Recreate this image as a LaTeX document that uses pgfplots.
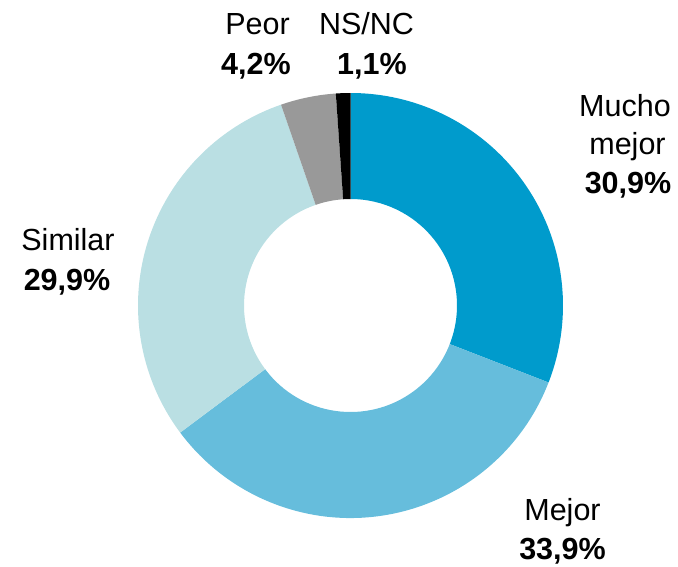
\documentclass[border=0pt]{standalone}
\usepackage{pgfplots}
\usepackage{pgfplotstable}
\pgfplotsset{compat=1.18}
\usepackage{fontspec}
\setmainfont{Liberation Sans}
\definecolor{c0}{HTML}{009BCC}
\definecolor{c1}{HTML}{66BDDC}
\definecolor{c2}{HTML}{BADFE3}
\definecolor{c3}{HTML}{999999}
\definecolor{c4}{HTML}{000000}
\tikzset{
  lbl/.style={anchor=base, inner sep=0pt, font=\fontsize{30.5}{36}\selectfont},
  blbl/.style={anchor=base, inner sep=0pt, font=\fontsize{30.5}{36}\selectfont\bfseries},
}
\pgfplotstableread{
idx value
0 30.9
1 33.9
2 29.9
3 4.2
4 1.1
}\slices
\begin{document}
\begin{tikzpicture}
\useasboundingbox (0,0) rectangle (678pt,566pt);
\begin{axis}[
  at={(0,0)}, anchor=south west,
  scale only axis, width=678pt, height=566pt,
  xmin=0, xmax=678, ymin=0, ymax=566,
  enlargelimits=false, hide axis, clip=false,
]
\def\acc{90}
\pgfplotsforeachungrouped \i in {0,...,4}{%
  \pgfplotstablegetelem{\i}{value}\of\slices
  \let\v\pgfplotsretval
  \pgfmathsetmacro\s{\acc}%
  \pgfmathsetmacro\e{\acc-3.6*\v}%
  \edef\temp{\noexpand\fill[c\i] ([shift={(\s:212.5pt)}]axis cs:350.5,260.5) arc[start angle=\s, end angle=\e, radius=212.5pt] -- ([shift={(\e:106.5pt)}]axis cs:350.5,260.5) arc[start angle=\e, end angle=\s, radius=106.5pt] -- cycle;}%
  \temp
  \xdef\acc{\e}%
}
\node[lbl]  at (axis cs:257.5,531) {Peor};
\node[blbl] at (axis cs:256,491) {4,2\%};
\node[lbl]  at (axis cs:366.5,531) {NS/NC};
\node[blbl] at (axis cs:372,491) {1,1\%};
\node[lbl]  at (axis cs:625,449) {Mucho};
\node[lbl]  at (axis cs:627.5,411) {mejor};
\node[blbl] at (axis cs:628,373) {30,9\%};
\node[lbl]  at (axis cs:562.5,45.5) {Mejor};
\node[blbl] at (axis cs:562.5,6.5) {33,9\%};
\node[lbl]  at (axis cs:68,316) {Similar};
\node[blbl] at (axis cs:67,276) {29,9\%};
\end{axis}
\end{tikzpicture}
\end{document}
